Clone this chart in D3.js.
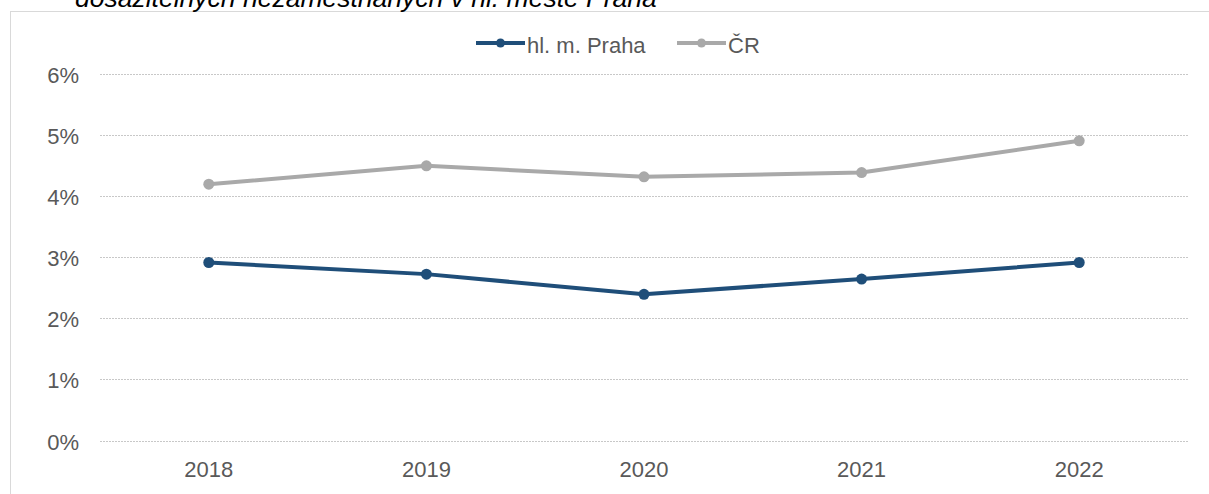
<!DOCTYPE html>
<html><head><meta charset="utf-8">
<script src="https://cdn.jsdelivr.net/npm/d3@7"></script>
<style>
html,body{margin:0;padding:0;background:#fff;}
svg{display:block;font-family:"Liberation Sans",Arial,sans-serif;}
</style></head>
<body><svg id="c" width="1209" height="494"></svg>
<script>
const years = ["2018","2019","2020","2021","2022"];
const praha = [2.91, 2.72, 2.39, 2.64, 2.91];
const cr = [4.19, 4.49, 4.31, 4.38, 4.90];
const seriesNames = ["hl. m. Praha", "ČR"];
const yTicks = [0,1,2,3,4,5,6];
const titleText = "dosažitelných nezaměstnaných v hl. městě Praha";

const svg = d3.select("#c");
const colors = ["#1f4e79", "#a9a9a9"];

// frame
svg.append("rect").attr("x",10.5).attr("y",11.5).attr("width",1300).attr("height",600)
  .attr("fill","none").attr("stroke","#d9d9d9").attr("stroke-width",1);

svg.append("text").attr("x",75).attr("y",7).attr("font-size",26.5).attr("font-style","italic")
  .attr("fill","#000").text(titleText);

const x = d3.scalePoint().domain(years).range([100,1188]).padding(0.5);
const y = d3.scaleLinear().domain([0,6]).range([440.5,73.5]);

// grid
svg.append("g").selectAll("line").data(yTicks).join("line")
  .attr("x1",100).attr("x2",1188).attr("y1",d=>Math.round(y(d))+0.5).attr("y2",d=>Math.round(y(d))+0.5)
  .attr("stroke","#c8c8c8").attr("stroke-width",1).attr("stroke-dasharray","2,1");

// y labels
svg.append("g").selectAll("text").data(yTicks).join("text")
  .attr("x",79).attr("y",d=>y(d)+9).attr("text-anchor","end").attr("font-size",22).attr("fill","#595959")
  .text(d=>d+"%");

// x labels
svg.append("g").selectAll("text").data(years).join("text")
  .attr("x",d=>x(d)).attr("y",477).attr("text-anchor","middle").attr("font-size",22).attr("fill","#595959")
  .text(d=>d);

const data = [praha, cr];
const line = d3.line().x((d,i)=>x(years[i])).y(d=>y(d));
// draw CR first then Praha
[1,0].forEach(k=>{
  svg.append("path").datum(data[k]).attr("d",line).attr("fill","none")
    .attr("stroke",colors[k]).attr("stroke-width",4).attr("stroke-linejoin","round");
  svg.append("g").selectAll("circle").data(data[k]).join("circle")
    .attr("cx",(d,i)=>x(years[i])).attr("cy",d=>y(d)).attr("r",5.5).attr("fill",colors[k]);
});

// legend
const leg = svg.append("g");
const legX = [476, 677];
seriesNames.forEach((n,k)=>{
  leg.append("line").attr("x1",legX[k]).attr("x2",legX[k]+49).attr("y1",43).attr("y2",43)
    .attr("stroke",colors[k]).attr("stroke-width",4);
  leg.append("circle").attr("cx",legX[k]+24.5).attr("cy",43).attr("r",4.5).attr("fill",colors[k]);
  leg.append("text").attr("x",legX[k]+51).attr("y",53).attr("font-size",22).attr("fill","#595959").text(n);
});
</script></body></html>
